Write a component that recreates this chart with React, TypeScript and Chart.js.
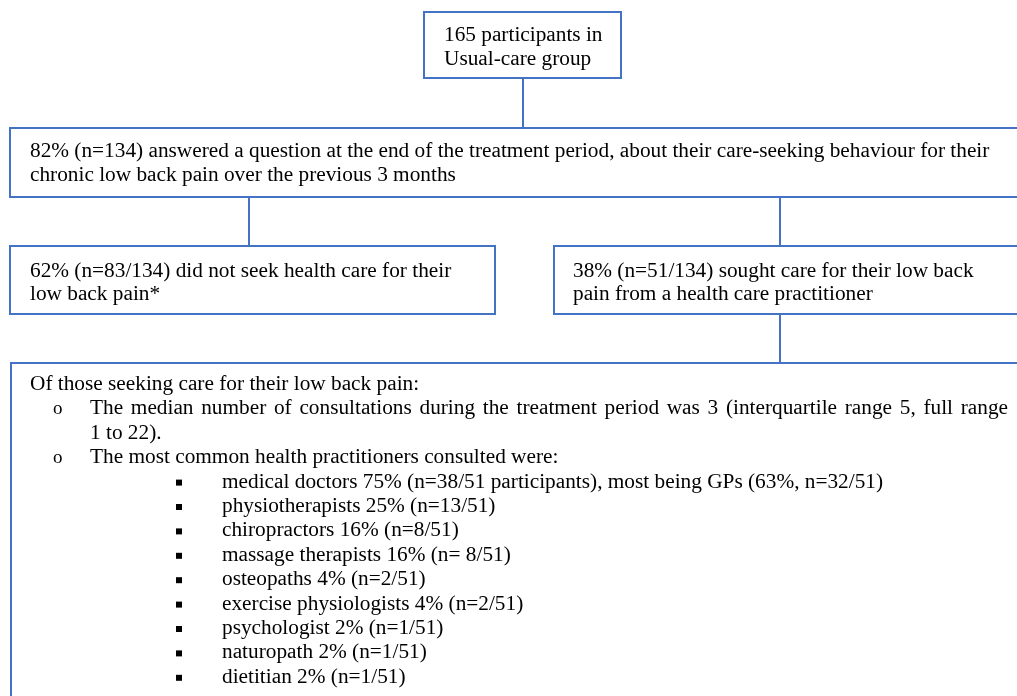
import { useEffect, useRef } from 'react';
import { Chart, registerables } from 'chart.js';

Chart.register(...registerables);

// ---- Data ----
const totalParticipants = 165;
const groupName = 'Usual-care group';
const answeredPct = 82;
const answeredN = 134;
const recallMonths = 3;
const noCarePct = 62;
const noCareN = 83;
const carePct = 38;
const careN = 51;
const consultMedian = 3;
const consultIQR = 5;
const consultMin = 1;
const consultMax = 22;
const practitioners = [
  'medical doctors',
  'physiotherapists',
  'chiropractors',
  'massage therapists',
  'osteopaths',
  'exercise physiologists',
  'psychologist',
  'naturopath',
  'dietitian',
];
const practitionerPct = [75, 25, 16, 16, 4, 4, 2, 2, 2];
const practitionerN = [38, 13, 8, 8, 2, 2, 1, 1, 1];
const nLabelSpacing = ['', '', '', ' ', '', '', '', '', ''];
const gpPct = 63;
const gpN = 32;

// ---- Styles ----
const BORDER = '#4472C4';
const TEXT = '#000000';
const FONT_SIZE = 21.3;
const FONT = `${FONT_SIZE}px "Liberation Serif", "Times New Roman", serif`;

function practitionerLine(i: number): string {
  const base = `${practitioners[i]} ${practitionerPct[i]}% (n=${nLabelSpacing[i]}${practitionerN[i]}/${careN}`;
  if (i === 0) return `${base} participants), most being GPs (${gpPct}%, n=${gpN}/${careN})`;
  return `${base})`;
}

const flowPlugin = {
  id: 'flowchart',
  afterDraw(chart: any) {
    const ctx: CanvasRenderingContext2D = chart.ctx;
    const sx = chart.scales.x;
    const sy = chart.scales.y;
    const X = (v: number) => sx.getPixelForValue(v);
    const Y = (v: number) => sy.getPixelForValue(v);

    ctx.save();
    ctx.fillStyle = '#ffffff';
    ctx.fillRect(0, 0, chart.width, chart.height);

    ctx.strokeStyle = BORDER;
    ctx.lineWidth = 2;
    const rect = (x1: number, y1: number, x2: number, y2: number) => {
      ctx.strokeRect(X(x1), Y(y1), X(x2) - X(x1), Y(y2) - Y(y1));
    };
    const vline = (x: number, y1: number, y2: number) => {
      ctx.beginPath();
      ctx.moveTo(X(x), Y(y1));
      ctx.lineTo(X(x), Y(y2));
      ctx.stroke();
    };

    // boxes
    rect(424, 12, 621, 78);
    rect(10, 128, 1040, 197);
    rect(10, 246, 495, 314);
    rect(554, 246, 1040, 314);
    rect(11, 363, 1040, 720);

    // connectors
    vline(523, 78, 128);
    vline(249, 197, 246);
    vline(780, 197, 246);
    vline(780, 314, 363);

    // text
    ctx.fillStyle = TEXT;
    ctx.font = FONT;
    ctx.textBaseline = 'alphabetic';
    ctx.textAlign = 'left';
    const t = (s: string, x: number, y: number) => ctx.fillText(s, X(x), Y(y));
    const justify = (s: string, x: number, xEnd: number, y: number) => {
      const words = s.split(' ');
      const natural = words.reduce((a, w) => a + ctx.measureText(w).width, 0);
      const gap = (X(xEnd) - X(x) - natural) / (words.length - 1);
      let cx = X(x);
      for (const w of words) {
        ctx.fillText(w, cx, Y(y));
        cx += ctx.measureText(w).width + gap;
      }
    };

    t(`${totalParticipants} participants in`, 444, 41);
    t(groupName, 444, 65);

    t(
      `${answeredPct}% (n=${answeredN}) answered a question at the end of the treatment period, about their care-seeking behaviour for their`,
      30,
      157
    );
    t(`chronic low back pain over the previous ${recallMonths} months`, 30, 181);

    t(`${noCarePct}% (n=${noCareN}/${answeredN}) did not seek health care for their`, 30, 277);
    t('low back pain*', 30, 300);

    t(`${carePct}% (n=${careN}/${answeredN}) sought care for their low back`, 573, 277);
    t('pain from a health care practitioner', 573, 300);

    const y0 = 390;
    const pitch = 24.4;
    t('Of those seeking care for their low back pain:', 30, y0);
    ctx.font = `19px "Liberation Serif", "Times New Roman", serif`;
    t('o', 53, y0 + pitch);
    t('o', 53, y0 + 3 * pitch);
    ctx.font = FONT;
    justify(
      `The median number of consultations during the treatment period was ${consultMedian} (interquartile range ${consultIQR}, full range`,
      90,
      1008,
      y0 + pitch
    );
    t(`${consultMin} to ${consultMax}).`, 90, y0 + 2 * pitch);
    t('The most common health practitioners consulted were:', 90, y0 + 3 * pitch);
    for (let i = 0; i < practitioners.length; i++) {
      const yy = y0 + (4 + i) * pitch;
      ctx.fillRect(X(176), Y(yy - 8), 6, 6);
      t(practitionerLine(i), 222, yy);
    }
    ctx.restore();
  },
};

export default function App() {
  const ref = useRef<HTMLCanvasElement | null>(null);
  useEffect(() => {
    document.body.style.margin = '0';
    const canvas = ref.current;
    if (!canvas) return;
    const chart = new Chart(canvas, {
      type: 'scatter',
      data: { datasets: [{ data: [], pointRadius: 0 }] },
      options: {
        animation: false,
        responsive: false,
        layout: { padding: 0 },
        plugins: { legend: { display: false }, tooltip: { enabled: false } },
        scales: {
          x: { type: 'linear', min: 0, max: 1017, display: false },
          y: { type: 'linear', min: 0, max: 696, reverse: true, display: false },
        },
      },
      plugins: [flowPlugin],
    });
    return () => chart.destroy();
  }, []);
  return (
    <div style={{ width: 1017, height: 696, background: '#fff' }}>
      <canvas ref={ref} width={1017} height={696} />
    </div>
  );
}
